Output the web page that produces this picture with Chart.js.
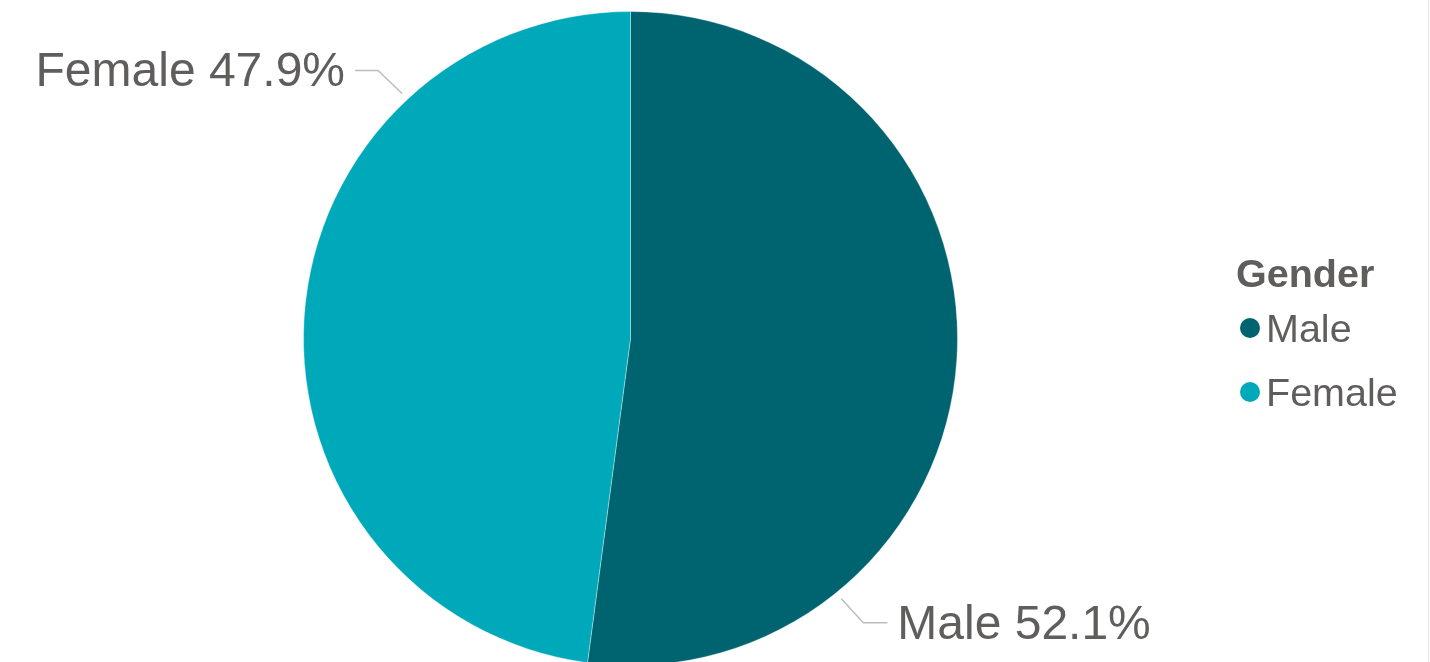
<!DOCTYPE html>
<html>
<head>
<meta charset="utf-8">
<script src="https://cdn.jsdelivr.net/npm/chart.js@4.4.1/dist/chart.umd.min.js"></script>
<style>
    html, body { margin: 0; padding: 0; background: #ffffff; overflow: hidden; }
    #wrap { position: relative; width: 1430px; height: 662px; overflow: hidden; }
    #wrap:after { content: ""; position: absolute; right: 1px; top: 0; width: 1px; height: 662px; background: #e6e6e6; }
    canvas { position: absolute; left: 0; top: 0; }
    .lg { position: absolute; font-family: "Liberation Sans", Arial, sans-serif; font-size: 39.5px; line-height: 39.5px; color: #605E5C; white-space: nowrap; }
    .lg.title { font-weight: bold; }
    .dot { position: absolute; width: 20px; height: 20px; border-radius: 50%; }
</style>
</head>
<body>
<div id="wrap">
    <canvas id="pie" width="1430" height="680"></canvas>
    <div id="legend"></div>
</div>
<script>
// Data
const legendTitle = "Gender";
const categories = ["Male", "Female"];
const shares = [52.1, 47.9];
const sliceColors = ["#006370", "#00A9BA"];

// Label placement (degrees, canvas angle) per slice
const labelAngles = [51, 227];

const textColor = "#605E5C";
const fontFamily = "'Liberation Sans', Arial, sans-serif";

// Draw outside labels with leader lines
const outsideLabels = {
    id: "outsideLabels",
    afterDatasetsDraw(chart) {
        const ctx = chart.ctx;
        const meta = chart.getDatasetMeta(0);
        const total = shares.reduce((a, b) => a + b, 0);
        ctx.save();
        ctx.font = "48px " + fontFamily;
        ctx.fillStyle = textColor;
        ctx.strokeStyle = "#BDBDBD";
        ctx.lineWidth = 1.5;
        meta.data.forEach((arc, i) => {
            const a = labelAngles[i] * Math.PI / 180;
            const r = arc.outerRadius + 8;
            const x0 = arc.x + Math.cos(a) * r;
            const y0 = arc.y + Math.sin(a) * r;
            const right = Math.cos(a) >= 0;
            const dx = right ? 22 : -24;
            const dy = Math.sin(a) >= 0 ? 24 : -23;
            const x1 = x0 + dx, y1 = y0 + dy;
            const x2 = x1 + (right ? 24 : -23);
            ctx.beginPath();
            ctx.moveTo(x0, y0);
            ctx.lineTo(x1, y1);
            ctx.lineTo(x2, y1);
            ctx.stroke();
            const pct = (shares[i] / total * 100).toFixed(1);
            const text = categories[i] + " " + pct + "%";
            ctx.textBaseline = "alphabetic";
            ctx.textAlign = right ? "left" : "right";
            ctx.fillText(text, x2 + (right ? 10 : -10), y1 + 16);
        });
        ctx.restore();
    }
};

new Chart(document.getElementById("pie"), {
    type: "pie",
    data: {
        labels: categories,
        datasets: [{
            data: shares,
            backgroundColor: sliceColors,
            borderColor: "rgba(255,255,255,0.35)",
            borderWidth: 1
        }]
    },
    options: {
        responsive: false,
        animation: false,
        layout: { padding: { left: 303, right: 472, top: 11, bottom: 14 } },
        plugins: {
            legend: { display: false },
            tooltip: { enabled: false }
        }
    },
    plugins: [outsideLabels]
});

// HTML legend
const legend = document.getElementById("legend");
const title = document.createElement("div");
title.className = "lg title";
title.style.left = "1236px";
title.style.top = "254px";
title.textContent = legendTitle;
legend.appendChild(title);

categories.forEach((name, i) => {
    const top = 309 + i * 64;
    const dot = document.createElement("span");
    dot.className = "dot";
    dot.style.left = "1240px";
    dot.style.top = (top + 9) + "px";
    dot.style.background = sliceColors[i];
    legend.appendChild(dot);
    const item = document.createElement("div");
    item.className = "lg";
    item.style.left = "1266px";
    item.style.top = top + "px";
    item.textContent = name;
    legend.appendChild(item);
});
</script>
</body>
</html>
